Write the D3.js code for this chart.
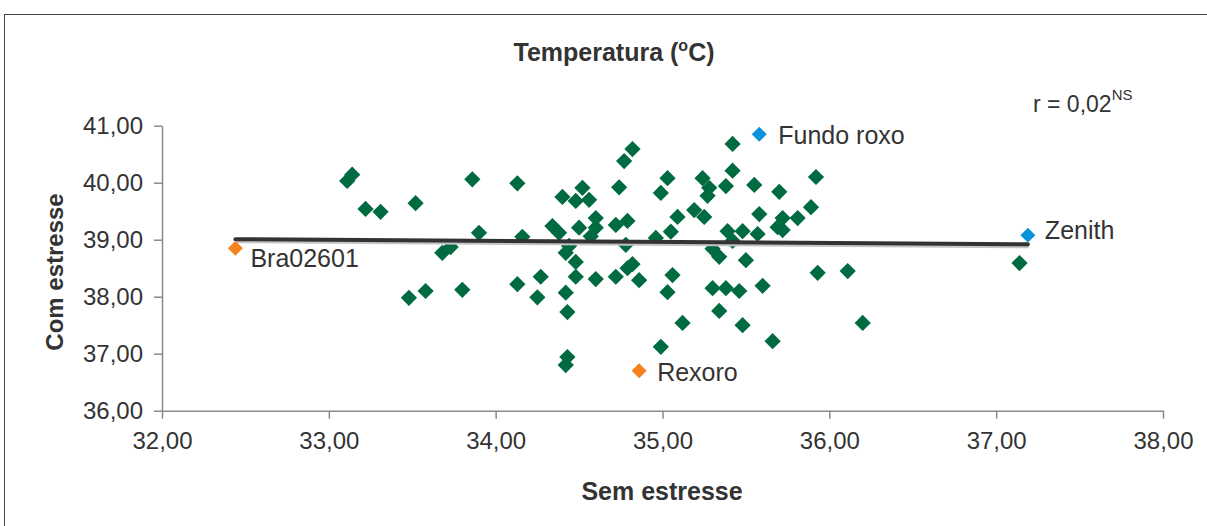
<!DOCTYPE html>
<html>
<head>
<meta charset="utf-8">
<script src="https://cdn.jsdelivr.net/npm/d3@7"></script>
<style>
  html, body { margin: 0; padding: 0; background: #fff; }
  svg { display: block; font-family: "Liberation Sans", Arial, Helvetica, sans-serif; }
</style>
</head>
<body>
<svg id="chart" width="1207" height="526"></svg>
<script>
// Genotype temperatures (°C): without stress (x) vs. with stress (y)
const semEstresse = [
  33.11, 33.14, 33.22, 33.31, 33.52, 33.86, 33.90, 33.68, 33.73, 33.48,
  33.58, 33.80, 34.13, 34.16, 34.13, 34.27, 34.25, 34.42, 34.43, 34.43,
  34.42, 34.40, 34.48, 34.52, 34.56, 34.34, 34.38, 34.50, 34.60, 34.60,
  34.57, 34.44, 34.42, 34.48, 34.48, 34.60, 34.72, 34.79, 34.82, 34.86,
  34.82, 34.77, 34.74, 34.72, 34.79, 34.78, 35.03, 34.99, 34.96, 35.05,
  35.09, 35.06, 35.03, 35.12, 34.99, 35.24, 35.28, 35.27, 35.38, 35.42,
  35.42, 35.55, 35.70, 35.92, 35.19, 35.25, 35.58, 35.72, 35.69, 35.81,
  35.89, 35.39, 35.48, 35.57, 35.42, 35.30, 35.34, 35.50, 35.30, 35.38,
  35.46, 35.60, 35.34, 35.48, 35.66, 35.93, 36.11, 36.20, 37.14, 35.72
];
const comEstresse = [
  40.03, 40.14, 39.54, 39.49, 39.64, 40.06, 39.12, 38.77, 38.87, 37.98,
  38.10, 38.12, 39.99, 39.05, 38.22, 38.35, 37.99, 38.07, 37.73, 36.94,
  36.80, 39.75, 39.68, 39.91, 39.70, 39.24, 39.12, 39.21, 39.38, 39.21,
  39.06, 38.89, 38.77, 38.61, 38.35, 38.31, 38.35, 38.50, 38.57, 38.29,
  40.59, 40.38, 39.92, 39.26, 39.33, 38.91, 40.08, 39.82, 39.03, 39.14,
  39.40, 38.38, 38.08, 37.54, 37.12, 40.08, 39.91, 39.77, 39.94, 40.68,
  40.21, 39.96, 39.84, 40.10, 39.52, 39.40, 39.45, 39.38, 39.22, 39.38,
  39.57, 39.15, 39.15, 39.10, 38.98, 38.84, 38.70, 38.64, 38.15, 38.15,
  38.10, 38.19, 37.75, 37.50, 37.22, 38.42, 38.45, 37.54, 38.59, 39.17
];

// Named genotypes
const destaqueNomes = ["Bra02601", "Rexoro", "Fundo roxo", "Zenith"];
const destaqueX = [32.44, 34.86, 35.58, 37.19];
const destaqueY = [38.85, 36.70, 40.85, 39.08];
const destaqueCores = ["#f5821f", "#f5821f", "#0a93d8", "#0a93d8"];

// Trend line end points
const tendenciaX = [32.44, 37.19];
const tendenciaY = [39.01, 38.92];

// Axis ticks
const xTicks = [32, 33, 34, 35, 36, 37, 38];
const yTicks = [36, 37, 38, 39, 40, 41];

const fmt = v => v.toFixed(2).replace(".", ",");

const svg = d3.select("#chart");

// chart frame
svg.append("rect")
  .attr("x", 4.5).attr("y", 14.5)
  .attr("width", 1230).attr("height", 540)
  .attr("fill", "#fff").attr("stroke", "#444").attr("stroke-width", 1);

const x = d3.scaleLinear().domain([32, 38]).range([162, 1163]);
const y = d3.scaleLinear().domain([36, 41]).range([410.7, 125.7]);

const axisColor = "#8a8a8a";
const textColor = "#333";

// x axis
const gx = svg.append("g").attr("transform", `translate(0,${y(36)})`)
  .call(d3.axisBottom(x).tickValues(xTicks).tickFormat(fmt).tickSizeInner(8).tickSizeOuter(0).tickPadding(13));
gx.select(".domain").attr("stroke", axisColor).attr("stroke-width", 1.5);
gx.selectAll(".tick line").attr("stroke", axisColor).attr("stroke-width", 1.5);
gx.selectAll(".tick text").attr("fill", textColor).style("font-size", "24px");

// y axis
const gy = svg.append("g").attr("transform", `translate(${x(32)},0)`)
  .call(d3.axisLeft(y).tickValues(yTicks).tickFormat(fmt).tickSizeInner(8).tickSizeOuter(0).tickPadding(11));
gy.select(".domain").attr("stroke", axisColor).attr("stroke-width", 1.5);
gy.selectAll(".tick line").attr("stroke", axisColor).attr("stroke-width", 1.5);
gy.selectAll(".tick text").attr("fill", textColor).style("font-size", "24px");

// diamond marker
const diamond = d3.symbol().type(d3.symbolSquare).size(132);

// green points
const pts = semEstresse.map((v, i) => ({ x: v, y: comEstresse[i] }));
svg.append("g").selectAll("path").data(pts).join("path")
  .attr("d", diamond)
  .attr("transform", d => `translate(${x(d.x)},${y(d.y)}) rotate(45)`)
  .attr("fill", "#006b40");

// trend line with soft shadow
const linha = d3.line().x(d => x(d[0])).y(d => y(d[1]));
const tendencia = tendenciaX.map((v, i) => [v, tendenciaY[i]]);
svg.append("path").datum(tendencia)
  .attr("d", linha)
  .attr("transform", "translate(1,2.5)")
  .attr("fill", "none").attr("stroke", "#c4c4c4").attr("stroke-width", 3);
svg.append("path").datum(tendencia)
  .attr("d", linha)
  .attr("fill", "none").attr("stroke", "#333335").attr("stroke-width", 4)
  .attr("stroke-linecap", "round");

// highlighted genotypes
const dest = destaqueNomes.map((n, i) => ({ n, x: destaqueX[i], y: destaqueY[i], c: destaqueCores[i] }));
svg.append("g").selectAll("path").data(dest).join("path")
  .attr("d", d3.symbol().type(d3.symbolSquare).size(112))
  .attr("transform", d => `translate(${x(d.x)},${y(d.y)}) rotate(45)`)
  .attr("fill", d => d.c);

// labels next to the highlighted genotypes
const offsets = { "Bra02601": [15, 19], "Rexoro": [18, 10], "Fundo roxo": [19, 10], "Zenith": [17, 4] };
svg.append("g").selectAll("text").data(dest).join("text")
  .attr("x", d => x(d.x) + offsets[d.n][0])
  .attr("y", d => y(d.y) + offsets[d.n][1])
  .attr("fill", textColor)
  .style("font-size", "25px")
  .text(d => d.n);

// title
const title = svg.append("text")
  .attr("x", 614).attr("y", 61)
  .attr("text-anchor", "middle")
  .attr("fill", textColor)
  .style("font-size", "25px").style("font-weight", "bold");
title.append("tspan").text("Temperatura (");
title.append("tspan").attr("dy", -10).style("font-size", "16px").text("o");
title.append("tspan").attr("dy", 10).text("C)");

// correlation note
const rText = svg.append("text")
  .attr("x", 1033).attr("y", 112)
  .attr("fill", textColor)
  .style("font-size", "23px");
rText.append("tspan").text("r = 0,02");
rText.append("tspan").attr("dy", -12).style("font-size", "15px").text("NS");

// axis titles
svg.append("text")
  .attr("x", 662).attr("y", 500)
  .attr("text-anchor", "middle")
  .attr("fill", textColor)
  .style("font-size", "25px").style("font-weight", "bold")
  .text("Sem estresse");

svg.append("text")
  .attr("transform", "translate(63,272) rotate(-90)")
  .attr("text-anchor", "middle")
  .attr("fill", textColor)
  .style("font-size", "24px").style("font-weight", "bold")
  .text("Com estresse");
</script>
</body>
</html>
